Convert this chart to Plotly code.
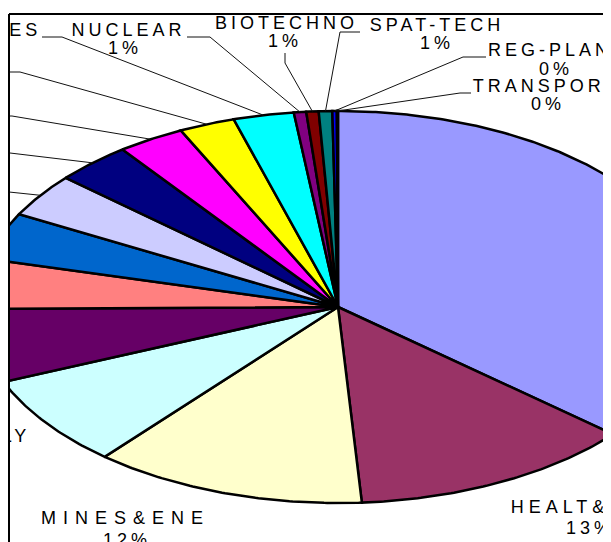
import numpy as np
import plotly.graph_objects as go

# ---- data (clockwise from 12 o'clock) ----
categories = ["S&T-DEPTS", "HEALT&FAM", "MINES&ENE", "AGRI&ALLY", "ELECTRONICS",
              "DEFENCE-RES", "OCEAN-DEV", "ENVIRONM", "AGRICULT", "IND-RES",
              "SOCIAL", "SERVICES", "NUCLEAR", "BIOTECHNO", "SPAT-TECH",
              "REG-PLAN", "TRANSPORT"]
shares = [36.25, 12.7, 12.2, 7.6, 6.1, 4.1, 3.9, 3.6, 3.4, 3.0, 2.5, 2.7,
          0.55, 0.55, 0.6, 0.2, 0.05]
colors = ["#9999FF", "#993366", "#FFFFCC", "#CCFFFF", "#660066", "#FF8080",
          "#0066CC", "#CCCCFF", "#000080", "#FF00FF", "#FFFF00", "#00FFFF",
          "#800080", "#800000", "#008080", "#0000FF", "#00CCFF"]

# ---- layout (screen pixels of the 611x542 window) ----
W, H = 611, 542
OFF = 8                       # default page body margin
L, R, T = 9, 609, 14          # frame
CX, CY = 338, 307             # pie centre
A, B = 362, 196               # ellipse radii
FS = 18
name_ls = [4, 5, 7, 4, 4, 4, 4, 4, 4, 4, 4, 4, 4, 4, 4, 4, 4]   # letter spacing
pct_ls = 4

name_pos = [(720, 250), (586, 508), (125.5, 519), (-37, 437.5), (-100, 300),
            (-100, 262), (-100, 225), (-80, 186), (-80, 147), (-80, 110),
            (-80, 66), (-20, 31), (128.5, 31), (286.5, 24.5), (437, 26),
            (550, 51), (546, 87)]
pct_pos = [(720, 270), (590, 529), (127, 541), (-37, 459), (-100, 320),
           (-100, 282), (-100, 245), (-80, 204), (-80, 165), (-80, 128),
           (-80, 84), (-22, 49), (125, 49.5), (285, 42.5), (437, 44),
           (556, 70), (548, 105)]
leaders = [None, None, None, None, None, None, None,
           [(-30, 192), (9, 192)],
           [(-30, 153), (10, 153)],
           [(-30, 116), (12, 116)],
           [(-30, 72), (20, 72)],
           [(42, 37), (62, 37)],
           [(187, 37), (210, 37)],
           [(285, 53), (285, 63)],
           [(360, 32), (340, 32)],
           [(486, 57), (463, 57)],
           [(471, 93), (460, 93)]]


def to_data(px, py):
    return px - CX, CY - py


vals = np.array(shares, dtype=float)
total = vals.sum()
ends = np.cumsum(vals) / total * 2 * np.pi
starts = np.concatenate([[0.0], ends[:-1]])

fig = go.Figure()

for i, (t0, t1) in enumerate(zip(starts, ends)):
    n = max(2, int(np.degrees(t1 - t0) * 2) + 2)
    th = np.linspace(t0, t1, n)
    xs = np.concatenate([[0.0], A * np.sin(th), [0.0]])
    ys = np.concatenate([[0.0], B * np.cos(th), [0.0]])
    fig.add_trace(go.Scatter(x=xs, y=ys, mode="lines", fill="toself",
                             fillcolor=colors[i],
                             line=dict(color="black", width=2.5),
                             hoverinfo="skip", showlegend=False))

# leader lines
for i, pts in enumerate(leaders):
    if pts is None:
        continue
    tm = (starts[i] + ends[i]) / 2
    ex, ey = A * np.sin(tm), B * np.cos(tm)
    lx = [to_data(*p)[0] for p in pts] + [ex]
    ly = [to_data(*p)[1] for p in pts] + [ey]
    fig.add_trace(go.Scatter(x=lx, y=ly, mode="lines",
                             line=dict(color="#111111", width=1),
                             hoverinfo="skip", showlegend=False))

pcts = vals / total * 100


def sp(s, ls):
    return f'<span style="letter-spacing:{ls}px">{s}</span>'


nx = [to_data(*p)[0] for p in name_pos]
ny = [to_data(*p)[1] for p in name_pos]
px_ = [to_data(*p)[0] for p in pct_pos]
py_ = [to_data(*p)[1] for p in pct_pos]
font = dict(family="Liberation Sans, Arial, sans-serif", size=FS, color="black")
fig.add_trace(go.Scatter(x=nx, y=ny, mode="text",
                         text=[sp(c, s) for c, s in zip(categories, name_ls)],
                         textposition="middle center", textfont=font,
                         hoverinfo="skip", showlegend=False, cliponaxis=True))
fig.add_trace(go.Scatter(x=px_, y=py_, mode="text",
                         text=[sp(f"{round(p)}%", pct_ls) for p in pcts],
                         textposition="middle center", textfont=font,
                         hoverinfo="skip", showlegend=False, cliponaxis=True))

frame = dict(color="black", width=2)
fig_w, fig_h = W - OFF, H - OFF
fig.update_layout(
    width=fig_w, height=fig_h,
    margin=dict(l=L - OFF, r=fig_w - (R - OFF), t=T - OFF, b=0, pad=0),
    paper_bgcolor="white", plot_bgcolor="white",
    xaxis=dict(range=[L - CX, R - CX], visible=False, fixedrange=True),
    yaxis=dict(range=[CY - H, CY - T], visible=False, fixedrange=True),
    shapes=[
        dict(type="line", xref="paper", yref="paper", x0=0, x1=0, y0=0, y1=1, line=frame),
        dict(type="line", xref="paper", yref="paper", x0=0, x1=1, y0=1, y1=1, line=frame),
        dict(type="line", xref="paper", yref="paper", x0=1, x1=1, y0=0, y1=1, line=frame),
    ],
    showlegend=False,
)

fig.write_html("out.html")
